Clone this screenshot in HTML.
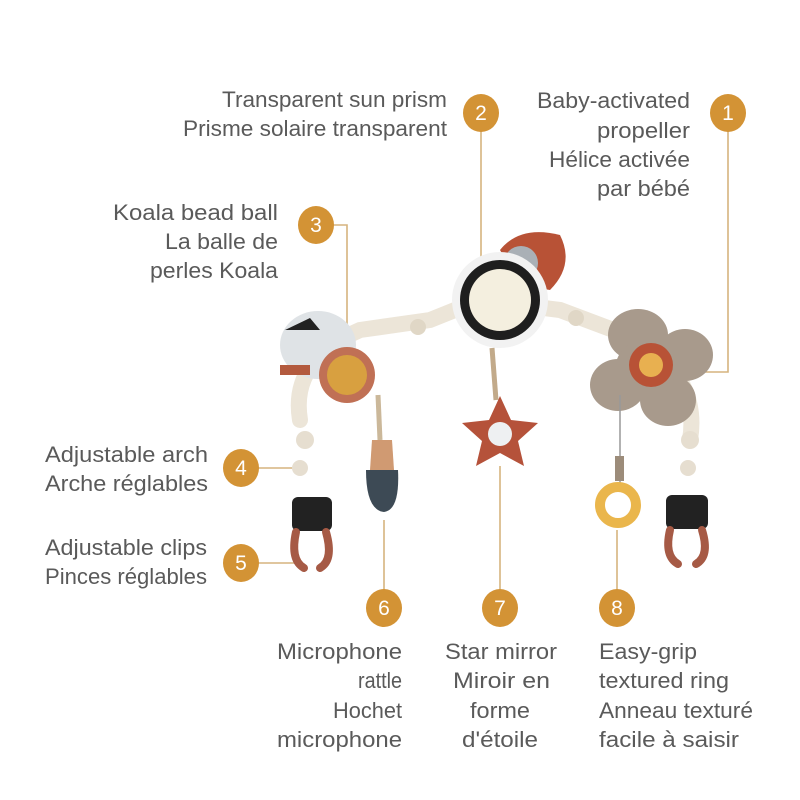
<!DOCTYPE html>
<html><head><meta charset="utf-8"><style>
html,body{margin:0;padding:0;background:#fff;width:800px;height:800px;overflow:hidden}
svg text{font-family:"Liberation Sans",sans-serif;font-size:22px;fill:#5a5a5a}
.n{fill:#fff;font-size:21px;text-anchor:middle}
</style></head><body>
<svg width="800" height="800" viewBox="0 0 800 800">
<g stroke="#d6b47e" stroke-width="1.6" fill="none">
<polyline points="728,113 728,372 688,372"/>
<line x1="481" y1="113" x2="481" y2="298"/>
<polyline points="316,225 347,225 347,362"/>
<line x1="241" y1="468" x2="300" y2="468"/>
<line x1="241" y1="563" x2="298" y2="563"/>
<line x1="384" y1="608" x2="384" y2="520"/>
<line x1="500" y1="608" x2="500" y2="466"/>
<line x1="617" y1="608" x2="617" y2="530"/>
</g>
<g>
<path d="M300,420 Q290,360 360,330 L430,320 L480,300 L560,310 L640,340 Q700,380 690,440" stroke="#ece5d8" stroke-width="16" fill="none" stroke-linecap="round"/>
<circle cx="418" cy="327" r="8" fill="#e0d7c6"/><circle cx="576" cy="318" r="8" fill="#e0d7c6"/>
<circle cx="305" cy="440" r="9" fill="#e6ded0"/><circle cx="300" cy="468" r="8" fill="#e6ded0"/>
<circle cx="690" cy="440" r="9" fill="#e6ded0"/><circle cx="688" cy="468" r="8" fill="#e6ded0"/>
<rect x="292" y="497" width="40" height="34" rx="6" fill="#222"/>
<path d="M296,532 Q290,560 304,568 M326,532 Q334,560 320,568" stroke="#a65a45" stroke-width="8" fill="none" stroke-linecap="round"/>
<rect x="666" y="495" width="42" height="34" rx="6" fill="#222"/>
<path d="M670,530 Q664,556 678,564 M702,530 Q710,556 696,564" stroke="#a65a45" stroke-width="8" fill="none" stroke-linecap="round"/>
<ellipse cx="318" cy="345" rx="38" ry="34" fill="#dfe3e6"/>
<path d="M285,330 L310,318 L320,330 Z" fill="#222"/>
<rect x="280" y="365" width="30" height="10" fill="#b35a3e"/>
<circle cx="347" cy="375" r="28" fill="#c07055"/>
<circle cx="347" cy="375" r="20" fill="#d8a040"/>
<line x1="378" y1="395" x2="380" y2="440" stroke="#cbb89a" stroke-width="5"/>
<path d="M372,440 L392,440 L394,470 L370,470 Z" fill="#d09a72"/>
<path d="M366,470 L398,470 Q400,510 384,512 Q366,510 366,470 Z" fill="#3d4a55"/>
<path d="M500,250 Q520,225 560,235 Q575,265 550,290 L520,285 Z" fill="#b85236"/>
<circle cx="521" cy="263" r="17" fill="#aab0b6"/>
<circle cx="500" cy="300" r="48" fill="#f2f2f2"/>
<circle cx="500" cy="300" r="40" fill="#1e1e1e"/>
<circle cx="500" cy="300" r="31" fill="#f4efdf"/>
<line x1="492" y1="348" x2="496" y2="400" stroke="#c2aa8a" stroke-width="5"/>
<polygon points="500,396 511,420 538,423 518,441 524,466 500,453 476,466 482,441 462,423 489,420" fill="#b5523a"/>
<circle cx="500" cy="434" r="12" fill="#eef0f2"/>
<g fill="#a89a8c">
<ellipse cx="638" cy="335" rx="30" ry="26"/>
<ellipse cx="685" cy="355" rx="28" ry="26"/>
<ellipse cx="618" cy="385" rx="28" ry="26"/>
<ellipse cx="668" cy="400" rx="28" ry="26"/>
<ellipse cx="645" cy="370" rx="30" ry="30"/>
</g>
<circle cx="651" cy="365" r="22" fill="#b85236"/>
<circle cx="651" cy="365" r="12" fill="#e8b050"/>
<line x1="620" y1="395" x2="620" y2="490" stroke="#999" stroke-width="1.5"/>
<rect x="615" y="456" width="9" height="25" fill="#9c8c7a"/>
<circle cx="618" cy="505" r="18" fill="none" stroke="#eab64c" stroke-width="10"/>
</g>
<g fill="#d39335">
<ellipse cx="728" cy="113" rx="18" ry="19"/>
<ellipse cx="481" cy="113" rx="18" ry="19"/>
<ellipse cx="316" cy="225" rx="18" ry="19"/>
<ellipse cx="241" cy="468" rx="18" ry="19"/>
<ellipse cx="241" cy="563" rx="18" ry="19"/>
<ellipse cx="384" cy="608" rx="18" ry="19"/>
<ellipse cx="500" cy="608" rx="18" ry="19"/>
<ellipse cx="617" cy="608" rx="18" ry="19"/>
</g>
<text class="n" x="728" y="120">1</text>
<text class="n" x="481" y="120">2</text>
<text class="n" x="316" y="232">3</text>
<text class="n" x="241" y="475">4</text>
<text class="n" x="241" y="570">5</text>
<text class="n" x="384" y="615">6</text>
<text class="n" x="500" y="615">7</text>
<text class="n" x="617" y="615">8</text>
<g lengthAdjust="spacingAndGlyphs">
<text lengthAdjust="spacingAndGlyphs" x="222" y="107" textLength="225">Transparent sun prism</text>
<text lengthAdjust="spacingAndGlyphs" x="183" y="136" textLength="264">Prisme solaire transparent</text>
<text lengthAdjust="spacingAndGlyphs" x="537" y="108" textLength="153">Baby-activated</text>
<text lengthAdjust="spacingAndGlyphs" x="597" y="138" textLength="93">propeller</text>
<text lengthAdjust="spacingAndGlyphs" x="549" y="167" textLength="141">Hélice activée</text>
<text lengthAdjust="spacingAndGlyphs" x="597" y="196" textLength="93">par bébé</text>
<text lengthAdjust="spacingAndGlyphs" x="113" y="220" textLength="165">Koala bead ball</text>
<text lengthAdjust="spacingAndGlyphs" x="165" y="249" textLength="113">La balle de</text>
<text lengthAdjust="spacingAndGlyphs" x="150" y="278" textLength="128">perles Koala</text>
<text lengthAdjust="spacingAndGlyphs" x="45" y="462" textLength="163">Adjustable arch</text>
<text lengthAdjust="spacingAndGlyphs" x="45" y="491" textLength="163">Arche réglables</text>
<text lengthAdjust="spacingAndGlyphs" x="45" y="555" textLength="162">Adjustable clips</text>
<text lengthAdjust="spacingAndGlyphs" x="45" y="584" textLength="162">Pinces réglables</text>
<text lengthAdjust="spacingAndGlyphs" x="277" y="659" textLength="125">Microphone</text>
<text lengthAdjust="spacingAndGlyphs" x="358" y="688" textLength="44">rattle</text>
<text lengthAdjust="spacingAndGlyphs" x="333" y="718" textLength="69">Hochet</text>
<text lengthAdjust="spacingAndGlyphs" x="277" y="747" textLength="125">microphone</text>
<text lengthAdjust="spacingAndGlyphs" x="445" y="659" textLength="112">Star mirror</text>
<text lengthAdjust="spacingAndGlyphs" x="453" y="688" textLength="97">Miroir en</text>
<text lengthAdjust="spacingAndGlyphs" x="470" y="718" textLength="60">forme</text>
<text lengthAdjust="spacingAndGlyphs" x="462" y="747" textLength="76">d'étoile</text>
<text lengthAdjust="spacingAndGlyphs" x="599" y="659" textLength="98">Easy-grip</text>
<text lengthAdjust="spacingAndGlyphs" x="599" y="688" textLength="130">textured ring</text>
<text lengthAdjust="spacingAndGlyphs" x="599" y="718" textLength="154">Anneau texturé</text>
<text lengthAdjust="spacingAndGlyphs" x="599" y="747" textLength="140">facile à saisir</text>
</g>
</svg>
</body></html>
